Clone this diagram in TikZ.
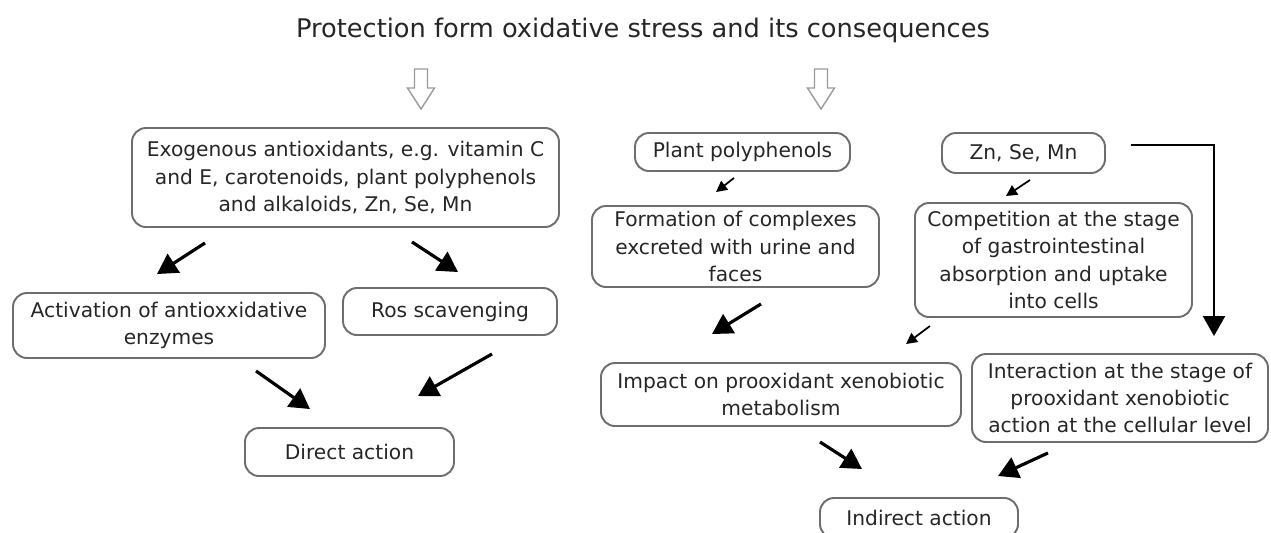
\documentclass[tikz,border=0pt]{standalone}
\usepackage{fontspec}
\setmainfont{DejaVu Sans}
\usetikzlibrary{arrows.meta}
\definecolor{boxgray}{HTML}{6E6E6E}
\definecolor{arrowgray}{HTML}{9A9A9A}
\tikzset{
	box/.style={draw=boxgray, line width=1.1pt, rounded corners=0.28cm, align=center, inner sep=2pt, text=black!85, font=\fontsize{11.5}{15.6}\selectfont},
	bigarrow/.style={-{Triangle[length=0.40cm, width=0.44cm]}, line width=1.8pt},
	smallarrow/.style={-{Triangle[length=0.22cm, width=0.22cm]}, line width=1pt},
	hollow/.style={draw=arrowgray, line width=0.8pt, line join=miter}
}
\begin{document}
\begin{tikzpicture}
		\useasboundingbox (0, 0) rectangle (25.42, -10.64);
		\clip (0, 0) rectangle (25.42, -10.64);

		\node[font=\fontsize{14.6}{17}\selectfont, text=black!85] (title) at (12.86, -0.60) {Protection form oxidative stress and its consequences};

		% hollow arrows under the title
		\foreach \ax in {8.42, 16.42}
			\draw[hollow] (\ax, -1.38) ++(-0.13, 0) -- ++(0, -0.38) -- ++(-0.14, 0) -- ++(0.27, -0.42) -- ++(0.27, 0.42) -- ++(-0.14, 0) -- ++(0, 0.38) -- cycle;

		% direct action
		\node[box, minimum width=8.54cm, minimum height=1.98cm] (exo) at (6.91, -3.55) {Exogenous antioxidants, e.g. vitamin C\\and E, carotenoids, plant polyphenols\\and alkaloids, Zn, Se, Mn};
		\node[box, minimum width=6.24cm, minimum height=1.30cm] (act) at (3.38, -6.51) {Activation of antioxxidative\\enzymes};
		\node[box, minimum width=4.28cm, minimum height=0.94cm] (ros) at (9.00, -6.23) {Ros scavenging};
		\node[box, minimum width=4.18cm, minimum height=0.96cm] (direct) at (6.99, -9.04) {Direct action};

		\draw[bigarrow] ([shift={(-2.81, -0.30)}]exo.south) -- ([shift={(-0.24, 0.36)}]act.north);
		\draw[bigarrow] ([shift={(1.33, -0.28)}]exo.south) -- ([shift={(0.16, 0.30)}]ros.north);
		\draw[bigarrow] ([shift={(1.74, -0.24)}]act.south) -- ([shift={(-0.79, 0.36)}]direct.north);
		\draw[bigarrow] ([shift={(0.84, -0.36)}]ros.south) -- ([shift={(1.37, 0.62)}]direct.north);

		% indirect action
		\node[box, minimum width=4.30cm, minimum height=0.76cm] (plant) at (14.85, -3.04) {Plant polyphenols};
		\node[box, minimum width=3.26cm, minimum height=0.80cm] (zn) at (20.47, -3.06) {Zn, Se, Mn};
		\node[box, minimum width=5.74cm, minimum height=1.62cm] (form) at (14.71, -4.93) {Formation of complexes\\excreted with urine and\\faces};
		\node[box, minimum width=5.54cm, minimum height=2.28cm] (comp) at (21.07, -5.20) {Competition at the stage\\of gastrointestinal\\absorption and uptake\\into cells};
		\node[box, minimum width=7.20cm, minimum height=1.26cm] (impact) at (15.62, -7.89) {Impact on prooxidant xenobiotic\\metabolism};
		\node[box, minimum width=5.92cm, minimum height=1.76cm] (inter) at (22.40, -7.96) {Interaction at the stage of\\prooxidant xenobiotic\\action at the cellular level};
		\node[box, minimum width=3.96cm, minimum height=0.80cm] (indirect) at (18.38, -10.36) {Indirect action};

		\draw[smallarrow] ([shift={(-0.17, -0.12)}]plant.south) -- ([shift={(-0.39, 0.26)}]form.north);
		\draw[smallarrow] ([shift={(0.13, -0.12)}]zn.south) -- ([shift={(-0.95, 0.12)}]comp.north);
		\draw[bigarrow] ([shift={(0.51, -0.32)}]form.south) -- ([shift={(-1.38, 0.56)}]impact.north);
		\draw[smallarrow] ([shift={(-2.47, -0.16)}]comp.south) -- ([shift={(2.50, 0.36)}]impact.north);
		\draw[bigarrow] ([shift={(0.78, -0.30)}]impact.south) -- ([shift={(-1.14, 0.56)}]indirect.north);
		\draw[bigarrow] ([shift={(-1.44, -0.20)}]inter.south) -- ([shift={(1.58, 0.42)}]indirect.north);
		\draw[bigarrow, line width=1.3pt] ([shift={(0.50, 0.16)}]zn.east) -| ([shift={(1.88, 0.34)}]inter.north);
	\end{tikzpicture}
\end{document}
